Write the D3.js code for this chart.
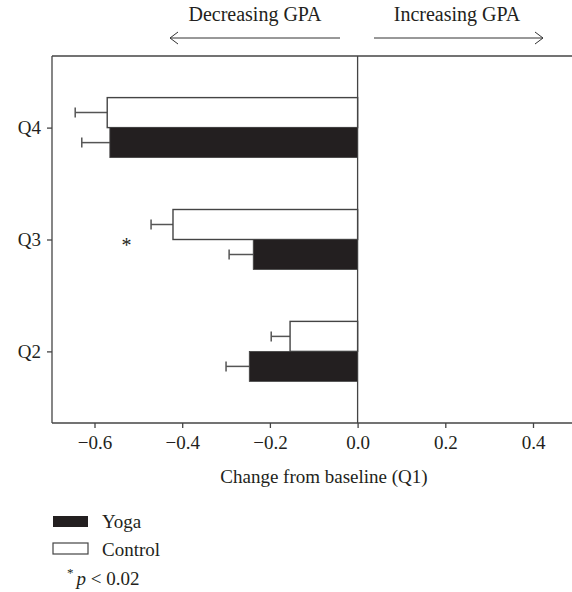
<!DOCTYPE html>
<html>
<head>
<meta charset="utf-8">
<script src="https://cdn.jsdelivr.net/npm/d3@7"></script>
<style>
body{margin:0;background:#fff;}
text{font-family:"Liberation Serif","DejaVu Serif",serif;fill:#231f20;}
</style>
</head>
<body>
<svg id="c" width="572" height="592"></svg>
<script>
const categories = ["Q4","Q3","Q2"];
const yogaValues = [-0.565, -0.238, -0.247];
const yogaErrors = [0.064, 0.055, 0.053];
const controlValues = [-0.571, -0.421, -0.154];
const controlErrors = [0.073, 0.050, 0.043];
const xTicks = [-0.6,-0.4,-0.2,0.0,0.2,0.4];
const sigCategory = "Q3";

(function(){
const svg = d3.select("#c");
const W = 572;
const plotLeft = 52, plotTop = 56, plotBottom = 423;
const x = d3.scaleLinear().domain([-0.6,0.4]).range([94.5,533]);
const y = d3.scalePoint().domain(categories).range([plotTop,plotBottom]).padding(0.64);
const barH = 30;
const lineCol = "#444";
const black = "#231f20";
const fs = 19;

// frame
svg.append("line").attr("x1",plotLeft).attr("x2",W).attr("y1",plotTop).attr("y2",plotTop).attr("stroke",lineCol).attr("stroke-width",1.3);
svg.append("line").attr("x1",plotLeft).attr("x2",plotLeft).attr("y1",plotTop).attr("y2",plotBottom).attr("stroke",lineCol).attr("stroke-width",1.3);

// x axis
const xAxis = svg.append("g").attr("transform",`translate(0,${plotBottom})`)
  .call(d3.axisBottom(x).tickValues(xTicks).tickSize(5).tickPadding(8).tickFormat(d=>d3.format(".1f")(d).replace("-","\u2212")));
xAxis.select(".domain").remove();
xAxis.insert("line",":first-child").attr("x1",plotLeft).attr("x2",W).attr("stroke",lineCol).attr("stroke-width",1.3);
xAxis.selectAll(".tick line").attr("stroke",lineCol).attr("stroke-width",1.3);
xAxis.selectAll(".tick text").attr("font-size",fs).attr("font-family","Liberation Serif, serif").attr("fill",black);

// y axis
const yAxis = svg.append("g").attr("transform",`translate(${plotLeft},0)`)
  .call(d3.axisLeft(y).tickSize(5).tickPadding(6));
yAxis.select(".domain").remove();
yAxis.selectAll(".tick line").attr("stroke",lineCol).attr("stroke-width",1.3);
yAxis.selectAll(".tick text").attr("font-size",fs).attr("font-family","Liberation Serif, serif").attr("fill",black);

// zero line
svg.append("line").attr("x1",x(0)).attr("x2",x(0)).attr("y1",plotTop).attr("y2",plotBottom).attr("stroke",lineCol).attr("stroke-width",1.3);

const data = categories.map((c,i)=>({c, yoga:yogaValues[i], ye:yogaErrors[i], ctrl:controlValues[i], ce:controlErrors[i]}));

function errBar(v,e,yc){
  const g = svg.append("g").attr("stroke","#555").attr("stroke-width",1.5);
  g.append("line").attr("x1",x(v)).attr("x2",x(v-e)).attr("y1",yc).attr("y2",yc);
  g.append("line").attr("x1",x(v-e)).attr("x2",x(v-e)).attr("y1",yc-5).attr("y2",yc+5);
}

data.forEach(d=>{
  const yc = y(d.c);
  errBar(d.ctrl,d.ce,yc-barH/2);
  errBar(d.yoga,d.ye,yc+barH/2);
  svg.append("rect").attr("x",x(d.ctrl)).attr("y",yc-barH).attr("width",x(0)-x(d.ctrl)).attr("height",barH)
    .attr("fill","#fff").attr("stroke",lineCol).attr("stroke-width",1.4);
  svg.append("rect").attr("x",x(d.yoga)).attr("y",yc).attr("width",x(0)-x(d.yoga)).attr("height",barH)
    .attr("fill",black).attr("stroke","#444").attr("stroke-width",0.8);
});

// significance star
svg.append("text").attr("x",x(-0.527)).attr("y",y(sigCategory)+12).attr("text-anchor","middle").attr("font-size",20).text("*");

// top annotations
svg.append("text").attr("x",255).attr("y",21).attr("text-anchor","middle").attr("font-size",20).text("Decreasing GPA");
svg.append("text").attr("x",457).attr("y",21).attr("text-anchor","middle").attr("font-size",20).text("Increasing GPA");
const ay = 38;
const ag = svg.append("g").attr("stroke","#333").attr("stroke-width",1).attr("fill","none");
ag.append("line").attr("x1",340).attr("x2",170).attr("y1",ay).attr("y2",ay);
ag.append("path").attr("d",`M178,${ay-6} L170,${ay} L178,${ay+6}`);
ag.append("line").attr("x1",374).attr("x2",543).attr("y1",ay).attr("y2",ay);
ag.append("path").attr("d",`M535,${ay-6} L543,${ay} L535,${ay+6}`);

// x title
svg.append("text").attr("x",324).attr("y",483).attr("text-anchor","middle").attr("font-size",fs).text("Change from baseline (Q1)");

// legend
svg.append("rect").attr("x",53).attr("y",516).attr("width",35).attr("height",11).attr("fill",black);
svg.append("text").attr("x",102).attr("y",528).attr("font-size",fs).text("Yoga");
svg.append("rect").attr("x",53).attr("y",543).attr("width",35).attr("height",11).attr("fill","#fff").attr("stroke",lineCol).attr("stroke-width",1.2);
svg.append("text").attr("x",102).attr("y",556).attr("font-size",fs).text("Control");
const pt = svg.append("text").attr("x",67).attr("y",585).attr("font-size",fs);
pt.append("tspan").attr("font-size",13).attr("dy",-8).text("*");
pt.append("tspan").attr("dy",8).attr("dx",3).attr("font-style","italic").text("p");
pt.append("tspan").text(" < 0.02");
})();
</script>
</body>
</html>
